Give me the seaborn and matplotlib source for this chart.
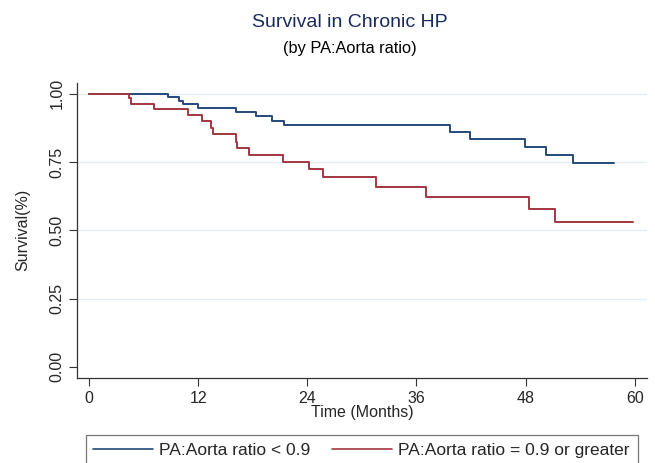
import numpy as np
import pandas as pd
import matplotlib

matplotlib.use('Agg')
import matplotlib.pyplot as plt
import seaborn as sns

# Kaplan-Meier steps (months, survival)
low_time = [0, 8.7, 9.9, 10.3, 12.0, 16.15, 18.35, 20.1, 21.4, 39.7, 41.9, 47.9, 50.2, 53.2, 57.7]
low_surv = [1.0, 0.988, 0.975, 0.962, 0.948, 0.933, 0.918, 0.902, 0.886, 0.860, 0.834, 0.805, 0.775, 0.747, 0.747]

high_time = [0, 4.43, 4.58, 7.14, 10.9, 12.4, 13.4, 13.6, 16.15, 16.3, 17.6, 21.35, 24.2, 25.7,
             31.6, 37.0, 48.4, 51.2, 59.75]
high_surv = [1.0, 0.984, 0.963, 0.944, 0.923, 0.899, 0.874, 0.853, 0.825, 0.803, 0.777, 0.750, 0.725,
             0.694, 0.659, 0.624, 0.580, 0.531, 0.531]

group_labels = ['PA:Aorta ratio < 0.9', 'PA:Aorta ratio = 0.9 or greater']
x_ticks = [0, 12, 24, 36, 48, 60]
y_ticks = [0.0, 0.25, 0.5, 0.75, 1.0]

df = pd.concat([
    pd.DataFrame({'time': low_time, 'surv': low_surv, 'group': group_labels[0]}),
    pd.DataFrame({'time': high_time, 'surv': high_surv, 'group': group_labels[1]}),
], ignore_index=True)

sns.set_style('white')
plt.rcParams['font.family'] = ['Liberation Sans', 'DejaVu Sans']

fig = plt.figure(figsize=(6.55, 4.63), dpi=100)
ax = fig.add_axes([0.1183, 0.1842, 0.869, 0.6365])

ax.set_axisbelow(True)
for yv in y_ticks[1:]:
    ax.axhline(yv, color='#e3eef2', lw=1.0, zorder=0)

palette = {group_labels[0]: '#24497a', group_labels[1]: '#a3363f'}
sns.lineplot(data=df, x='time', y='surv', hue='group', palette=palette,
             drawstyle='steps-post', estimator=None, lw=1.4, ax=ax, legend=False)

ax.set_xlim(-1.26, 61.3)
ax.set_ylim(-0.04, 1.04)
ax.set_xticks(x_ticks)
ax.set_yticks(y_ticks)
ax.set_yticklabels([f'{v:.2f}' for v in y_ticks], rotation=90, va='center')
ax.tick_params(axis='both', labelsize=11.5, length=5.5, width=0.8, color='#333333',
               direction='out', bottom=True, left=True, pad=4)
for side in ['top', 'right']:
    ax.spines[side].set_visible(False)
for side in ['left', 'bottom']:
    ax.spines[side].set_color('#333333')
    ax.spines[side].set_linewidth(0.9)

ax.set_xlabel('Time (Months)', fontsize=11.5, labelpad=-1)
ax.set_ylabel('Survival(%)', fontsize=11.5, labelpad=14)

fig.text(0.534, 0.952, 'Survival in Chronic HP', ha='center', va='center',
         fontsize=14, color='#1a2a5e')
fig.text(0.534, 0.896, '(by PA:Aorta ratio)', ha='center', va='center',
         fontsize=11.8, color='black')

handles = [plt.Line2D([], [], color=palette[g], lw=1.2) for g in group_labels]
leg = fig.legend(handles, group_labels, loc='upper center', bbox_to_anchor=(0.552, 0.0605),
                 ncol=2, frameon=True, fancybox=False, edgecolor='#555555',
                 fontsize=12.5, handlelength=3.45, handletextpad=0.35, columnspacing=1.25,
                 borderpad=0.45, borderaxespad=0)
leg.get_frame().set_linewidth(0.9)

fig.savefig('out.png', dpi=100)
